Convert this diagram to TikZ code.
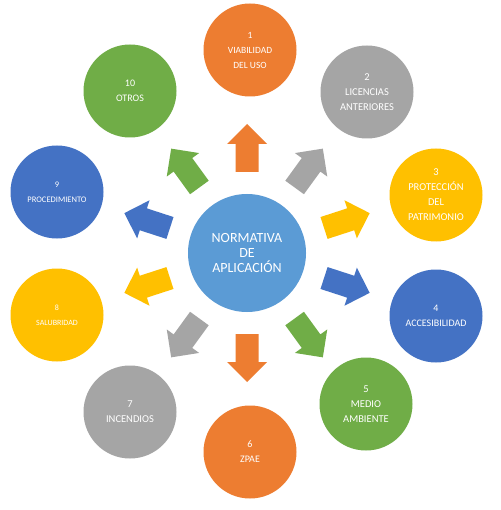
\documentclass[tikz,border=0pt]{standalone}
\usepackage{fontspec}
\setmainfont{Carlito}
\definecolor{oOrange}{HTML}{ED7D31}
\definecolor{oGray}{HTML}{A5A5A5}
\definecolor{oYellow}{HTML}{FFC000}
\definecolor{oBlue}{HTML}{4472C4}
\definecolor{oGreen}{HTML}{70AD47}
\definecolor{oLight}{HTML}{5B9BD5}
\newcommand{\fs}[1]{\fontsize{#1}{15}\selectfont}
\begin{document}
\begin{tikzpicture}[x=1pt,y=-1pt,
  outer/.style={circle, minimum size=93pt, inner sep=0pt, text=white, align=center},
  hub/.style={circle, fill=oLight, minimum size=118pt, inner sep=0pt, text=white, align=center, font=\fontsize{14}{15}\selectfont},
  blockarrow/.style={fill=#1}]
\fill[white] (0,0) rectangle (500,510);
\useasboundingbox (0,0) rectangle (500,510);
\node[hub] (hub) at (247,253) {NORMATIVA\\DE\\APLICACIÓN};
\node[outer, fill=oOrange, font=\fs{9.5}] (n1) at (250,50) {1\\VIABILIDAD\\DEL USO};
\node[outer, fill=oGray, font=\fs{10.5}] (n2) at (367,92) {2\\LICENCIAS\\ANTERIORES};
\node[outer, fill=oYellow, font=\fs{10.5}] (n3) at (436,195) {3\\PROTECCIÓN\\DEL\\PATRIMONIO};
\node[outer, fill=oBlue, font=\fs{10}] (n4) at (436,316) {4\\ACCESIBILIDAD};
\node[outer, fill=oGreen, font=\fs{10.5}] (n5) at (366,404) {5\\MEDIO\\AMBIENTE};
\node[outer, fill=oOrange, font=\fs{10}] (n6) at (250,452) {6\\ZPAE};
\node[outer, fill=oGray, font=\fs{10.5}] (n7) at (130,412) {7\\INCENDIOS};
\node[outer, fill=oYellow, font=\fs{8}] (n8) at (57,315) {8\\SALUBRIDAD};
\node[outer, fill=oBlue, font=\fs{8.5}] (n9) at (57,192) {9\\PROCEDIMIENTO};
\node[outer, fill=oGreen, font=\fs{10}] (n10) at (130,91) {10\\OTROS};
\foreach \a/\c in {90/oOrange, 54/oGray, 18/oYellow, -18/oBlue, -54/oGreen,
                   -90/oOrange, -126/oGray, -162/oYellow, 162/oBlue, 126/oGreen}{
  \fill[blockarrow=\c, shift={(hub.center)}, rotate=\a-180]
    (81,-11.5) -- (109,-11.5) -- (109,-20) -- (129,0) -- (109,20) -- (109,11.5) -- (81,11.5) -- cycle;
}
\end{tikzpicture}
\end{document}
